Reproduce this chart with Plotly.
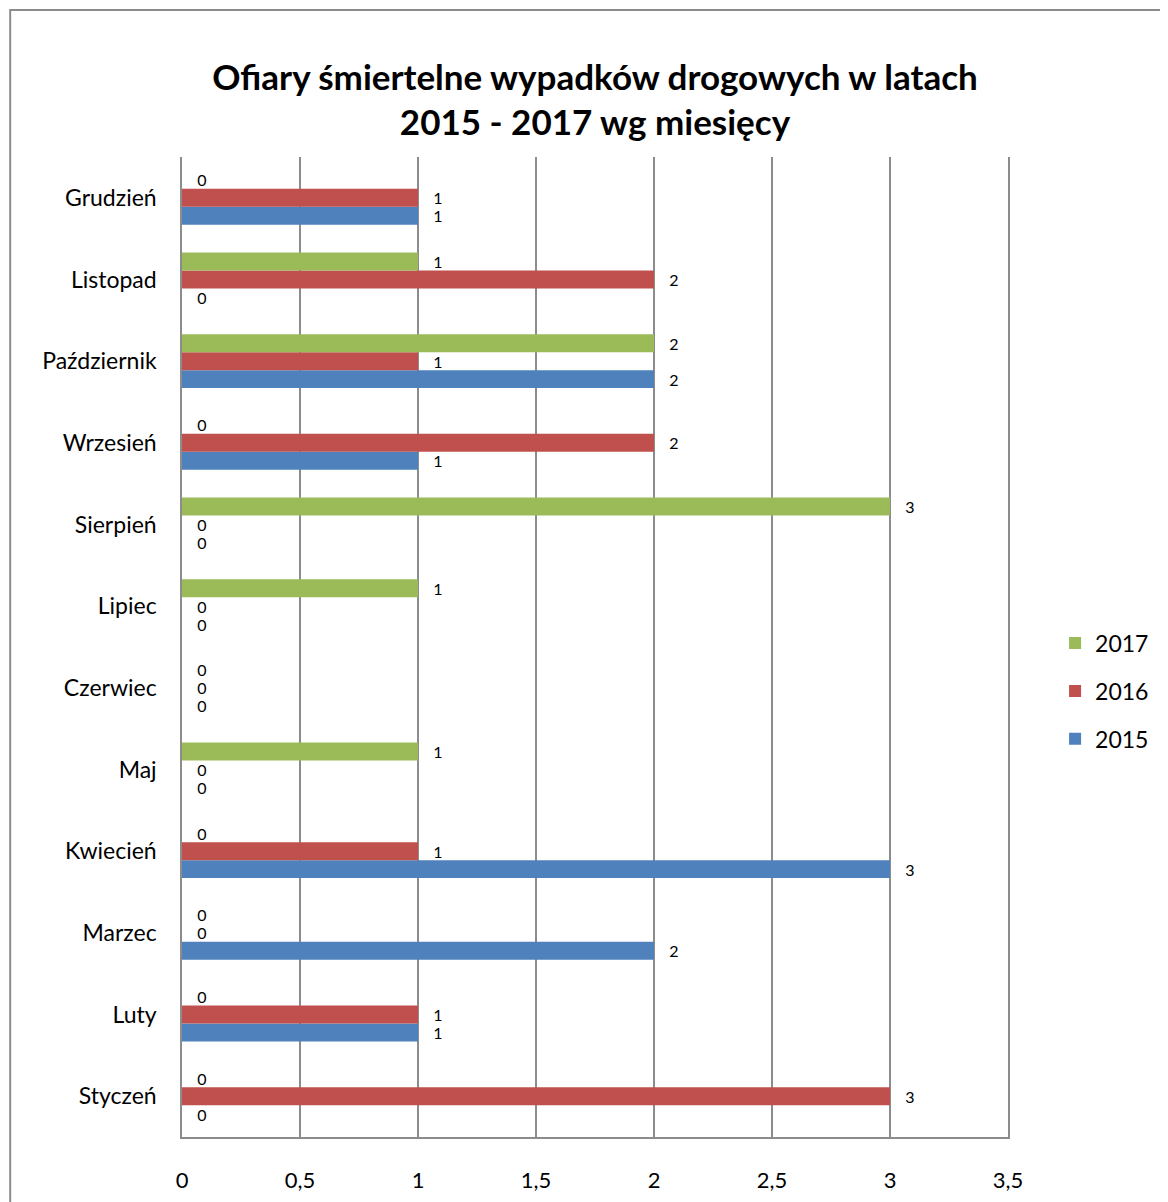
import plotly.graph_objects as go

months = ["Styczeń", "Luty", "Marzec", "Kwiecień", "Maj", "Czerwiec",
          "Lipiec", "Sierpień", "Wrzesień", "Październik", "Listopad", "Grudzień"]
y2015 = [0, 1, 2, 3, 0, 0, 0, 0, 1, 2, 0, 1]
y2016 = [3, 1, 0, 1, 0, 0, 0, 0, 2, 1, 2, 1]
y2017 = [0, 0, 0, 0, 1, 0, 1, 3, 0, 2, 1, 0]
x_ticks = [0, 0.5, 1, 1.5, 2, 2.5, 3, 3.5]

series = [("2015", y2015, "#4F81BD"), ("2016", y2016, "#C0504D"), ("2017", y2017, "#9BBB59")]

FONT = "Lato"
GRID = "#8c8c8c"

fig = go.Figure()
for i, (name, vals, color) in enumerate(series):
    fig.add_trace(go.Bar(
        x=vals, y=months, name=name, orientation="h",
        marker=dict(color=color, line=dict(width=0)),
        texttemplate="   %{x}", textposition="outside", cliponaxis=False,
        constraintext="none",
        textfont=dict(family=FONT, size=16, color="black"),
        legendgroup=name, legendrank=3 - i,
    ))

fig.update_layout(
    width=1168, height=1202,
    barmode="group", bargap=0.34, bargroupgap=0,
    separators=", ",
    plot_bgcolor="white", paper_bgcolor="white",
    font=dict(family=FONT, color="black"),
    margin=dict(l=174, r=168, t=149, b=73, autoexpand=False),
    title=dict(text="Ofiary śmiertelne wypadków drogowych w latach<br>2015 - 2017 wg miesięcy",
               x=0.5, xref="paper", xanchor="center", y=0.932, yanchor="middle",
               font=dict(family=FONT, size=35, color="black", weight="bold")),
    legend=dict(x=1.057, y=0.455, xanchor="left", yanchor="middle",
                traceorder="grouped", tracegroupgap=15,
                font=dict(family=FONT, size=23, color="black")),
    showlegend=True,
)
fig.update_xaxes(range=[0, 3.5], tickvals=x_ticks, showgrid=True, gridcolor=GRID,
                 gridwidth=1.5, showline=True, linecolor=GRID, linewidth=1.5,
                 ticks="", ticklabelstandoff=23, zeroline=False,
                 tickfont=dict(family=FONT, size=22, color="black"))
fig.update_yaxes(showgrid=False, showline=True, linecolor=GRID, linewidth=1.5, mirror=True,
                 ticks="", ticklabelstandoff=19,
                 tickfont=dict(family=FONT, size=23, color="black"))

fig.add_shape(type="rect", xref="paper", yref="paper",
              x0=-0.208, x1=1.5, y0=-0.2, y1=1.15,
              line=dict(color=GRID, width=2), fillcolor="rgba(0,0,0,0)", layer="below")

fig.write_html("out.html")
